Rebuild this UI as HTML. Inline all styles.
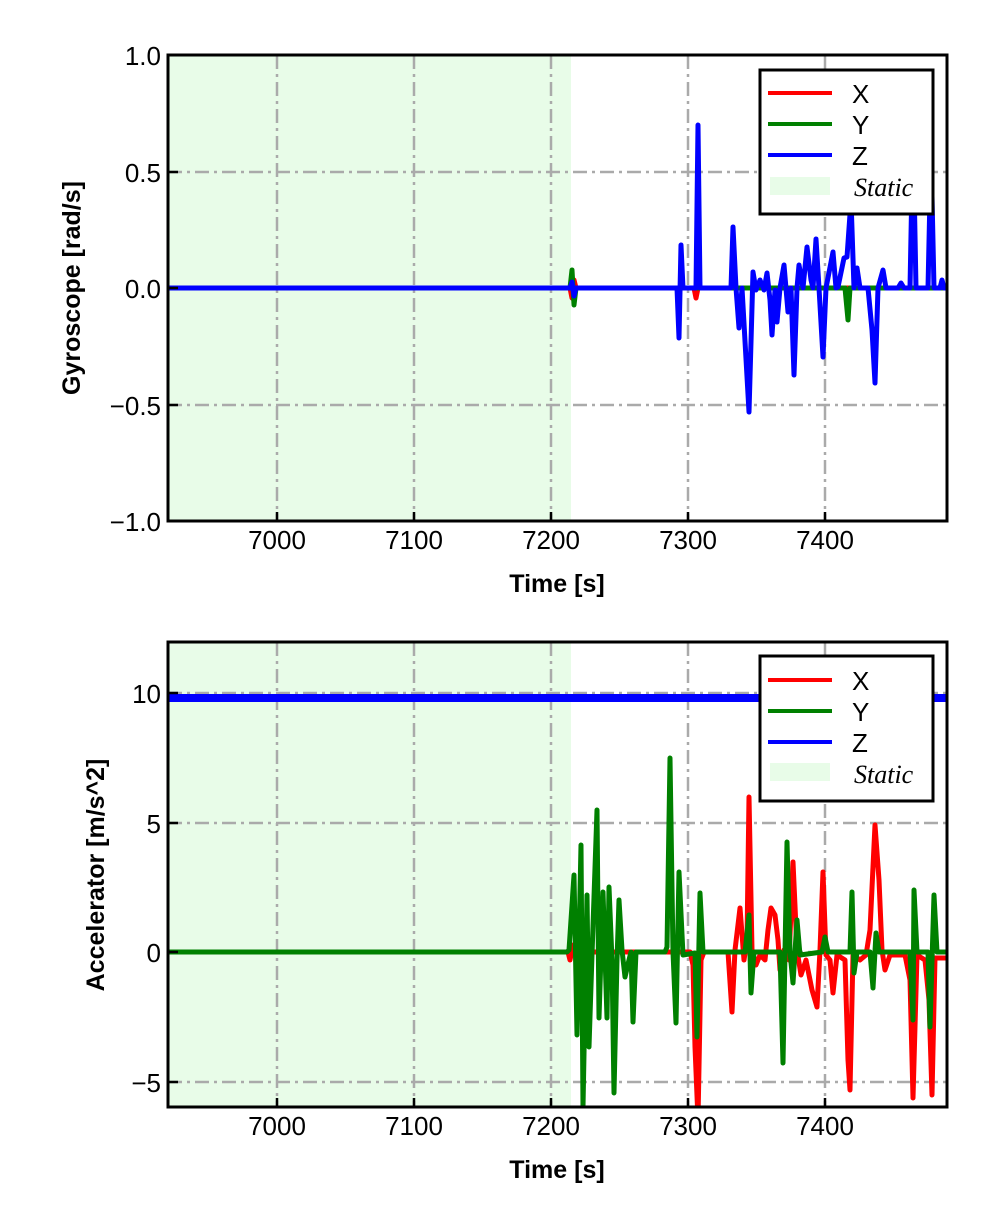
<!DOCTYPE html>
<html><head><meta charset="utf-8"><style>
html,body{margin:0;padding:0;background:#fff}
svg{display:block}
text{font-family:"Liberation Sans",sans-serif;fill:#000}
.t{font-size:26px}
.lab{font-size:25px;font-weight:bold}
.g{stroke:#aaa;stroke-width:2.5;stroke-dasharray:14,5,3,5;fill:none}
</style></head><body>
<svg width="992" height="1228" viewBox="0 0 992 1228" xmlns="http://www.w3.org/2000/svg">
<defs>
<clipPath id="c1"><rect x="168" y="55" width="779" height="466"/></clipPath>
<clipPath id="c2"><rect x="168" y="642" width="779" height="465"/></clipPath>
</defs>
<!-- TOP -->
<rect x="168" y="55" width="403" height="466" fill="#e8fce8"/>
<g class="g">
<line x1="277" y1="55" x2="277" y2="521"/><line x1="414" y1="55" x2="414" y2="521"/><line x1="551" y1="55" x2="551" y2="521"/><line x1="688" y1="55" x2="688" y2="521"/><line x1="825" y1="55" x2="825" y2="521"/>
<line x1="168" y1="172" x2="947" y2="172"/><line x1="168" y1="288" x2="947" y2="288"/><line x1="168" y1="405" x2="947" y2="405"/>
</g>
<g clip-path="url(#c1)" fill="none" stroke-linejoin="round" stroke-width="5">
<polyline stroke="#f00" points="168,288 570,288 572,298 574,280 576,288 694,288 696,298 698,288 947,288"/>
<polyline stroke="#008000" points="168,288 570,288 572,270 574,305 576,288 845,288 848,320 850,288 947,288"/>
<polyline stroke="#0000ff" points="168,288 570,288 572,282 574,296 576,288 677,288 679,338 681,245 683,288 696,288 698,125 700,288 731,288 733,227 736,288 739,328 742,288 749,412 753,272 756,290 760,280 764,290 767,273 770,300 772,335 775,290 777,322 780,288 784,265 788,312 791,288 794,375 797,288 799,265 803,288 807,247 811,280 813,288 816,239 819,288 823,357 826,288 833,252 836,288 838,287 844,258 847,257 851,200 854,288 857,268 860,288 868,288 872,330 875,383 878,288 883,270 886,288 898,288 901,283 904,288 910,288 913,130 916,288 928,288 931,150 934,288 940,288 942,280 944,288 947,288"/>
</g>
<rect x="168" y="55" width="779" height="466" fill="none" stroke="#000" stroke-width="3"/>
<g stroke="#000" stroke-width="2.5">
<line x1="277" y1="521" x2="277" y2="512"/><line x1="414" y1="521" x2="414" y2="512"/><line x1="551" y1="521" x2="551" y2="512"/><line x1="688" y1="521" x2="688" y2="512"/><line x1="825" y1="521" x2="825" y2="512"/>
<line x1="168" y1="55" x2="178" y2="55"/><line x1="168" y1="172" x2="178" y2="172"/><line x1="168" y1="288" x2="178" y2="288"/><line x1="168" y1="405" x2="178" y2="405"/><line x1="168" y1="521" x2="178" y2="521"/>
</g>
<g class="t" text-anchor="end">
<text x="161" y="65">1.0</text><text x="161" y="182">0.5</text><text x="161" y="298">0.0</text><text x="161" y="415">−0.5</text><text x="161" y="531">−1.0</text>
</g>
<g class="t" text-anchor="middle">
<text x="277" y="549">7000</text><text x="414" y="549">7100</text><text x="551" y="549">7200</text><text x="688" y="549">7300</text><text x="825" y="549">7400</text>
</g>
<text class="lab" x="557" y="592" text-anchor="middle">Time [s]</text>
<text class="lab" transform="translate(80,288) rotate(-90)" text-anchor="middle">Gyroscope [rad/s]</text>
<rect x="760" y="70" width="173" height="144" fill="#fff" stroke="#000" stroke-width="3"/>
<line x1="768" y1="93" x2="832" y2="93" stroke="#f00" stroke-width="4"/>
<line x1="768" y1="124" x2="832" y2="124" stroke="#008000" stroke-width="4"/>
<line x1="768" y1="155" x2="832" y2="155" stroke="#0000ff" stroke-width="4"/>
<rect x="770" y="177" width="60" height="18" fill="#e8fce8"/>
<text class="t" x="852" y="103">X</text><text class="t" x="852" y="134">Y</text><text class="t" x="852" y="165">Z</text>
<text x="854" y="196" style="font-family:'Liberation Serif',serif;font-style:italic;font-size:26px">Static</text>

<!-- BOTTOM -->
<rect x="168" y="642" width="403" height="465" fill="#e8fce8"/>
<g class="g">
<line x1="277" y1="642" x2="277" y2="1107"/><line x1="414" y1="642" x2="414" y2="1107"/><line x1="551" y1="642" x2="551" y2="1107"/><line x1="688" y1="642" x2="688" y2="1107"/><line x1="825" y1="642" x2="825" y2="1107"/>
<line x1="168" y1="693" x2="947" y2="693"/><line x1="168" y1="823" x2="947" y2="823"/><line x1="168" y1="952" x2="947" y2="952"/><line x1="168" y1="1082" x2="947" y2="1082"/>
</g>
<g clip-path="url(#c2)" fill="none" stroke-linejoin="round">
<line x1="168" y1="698" x2="947" y2="698" stroke="#0000ff" stroke-width="8"/>
<polyline stroke="#f00" stroke-width="5" points="168,952 568,952 570,960 573,945 577,952 690,952 693,965 695,1047 698,1120 701,960 704,952 728,952 732,1012 735,950 740,908 744,960 747,940 749,797 752,950 756,965 760,955 765,960 768,930 771,908 775,915 778,940 780,970 784,950 789,960 793,862 797,950 801,975 806,960 812,990 817,1007 820,950 823,872 826,955 830,960 833,993 837,955 845,960 848,1060 850,1090 853,955 860,960 866,955 870,930 875,825 879,880 882,950 885,970 890,955 905,955 910,980 913,1098 917,955 925,960 929,1000 932,1095 935,958 947,958"/>
<polyline stroke="#008000" stroke-width="5" points="168,952 567,952 569,950 574,875 577,1035 581,845 583,1107 587,895 589,1047 592,955 597,810 599,1018 603,892 607,1018 609,887 612,960 614,1093 617,960 619,900 622,950 625,977 629,960 631,952 633,1022 636,952 665,952 667,947 670,758 673,952 676,1023 679,872 683,955 695,953 697,1037 700,893 703,952 745,952 749,915 751,993 754,952 780,952 783,1063 787,842 790,952 793,983 797,920 800,955 822,952 825,937 828,952 850,952 852,892 854,973 857,952 870,952 873,988 876,933 879,952 910,952 913,1020 914,890 917,952 928,952 930,1027 934,895 937,952 947,952"/>
</g>
<rect x="168" y="642" width="779" height="465" fill="none" stroke="#000" stroke-width="3"/>
<g stroke="#000" stroke-width="2.5">
<line x1="277" y1="1107" x2="277" y2="1098"/><line x1="414" y1="1107" x2="414" y2="1098"/><line x1="551" y1="1107" x2="551" y2="1098"/><line x1="688" y1="1107" x2="688" y2="1098"/><line x1="825" y1="1107" x2="825" y2="1098"/>
<line x1="168" y1="693" x2="178" y2="693"/><line x1="168" y1="823" x2="178" y2="823"/><line x1="168" y1="952" x2="178" y2="952"/><line x1="168" y1="1082" x2="178" y2="1082"/>
</g>
<g class="t" text-anchor="end">
<text x="161" y="703">10</text><text x="161" y="833">5</text><text x="161" y="962">0</text><text x="161" y="1092">−5</text>
</g>
<g class="t" text-anchor="middle">
<text x="277" y="1135">7000</text><text x="414" y="1135">7100</text><text x="551" y="1135">7200</text><text x="688" y="1135">7300</text><text x="825" y="1135">7400</text>
</g>
<text class="lab" x="557" y="1178" text-anchor="middle">Time [s]</text>
<text class="lab" transform="translate(104,875) rotate(-90)" text-anchor="middle">Accelerator [m/s^2]</text>
<rect x="760" y="656" width="173" height="145" fill="#fff" stroke="#000" stroke-width="3"/>
<line x1="768" y1="680" x2="832" y2="680" stroke="#f00" stroke-width="4"/>
<line x1="768" y1="711" x2="832" y2="711" stroke="#008000" stroke-width="4"/>
<line x1="768" y1="742" x2="832" y2="742" stroke="#0000ff" stroke-width="4"/>
<rect x="770" y="763" width="60" height="18" fill="#e8fce8"/>
<text class="t" x="852" y="690">X</text><text class="t" x="852" y="721">Y</text><text class="t" x="852" y="752">Z</text>
<text x="854" y="783" style="font-family:'Liberation Serif',serif;font-style:italic;font-size:26px">Static</text>
</svg>
</body></html>
